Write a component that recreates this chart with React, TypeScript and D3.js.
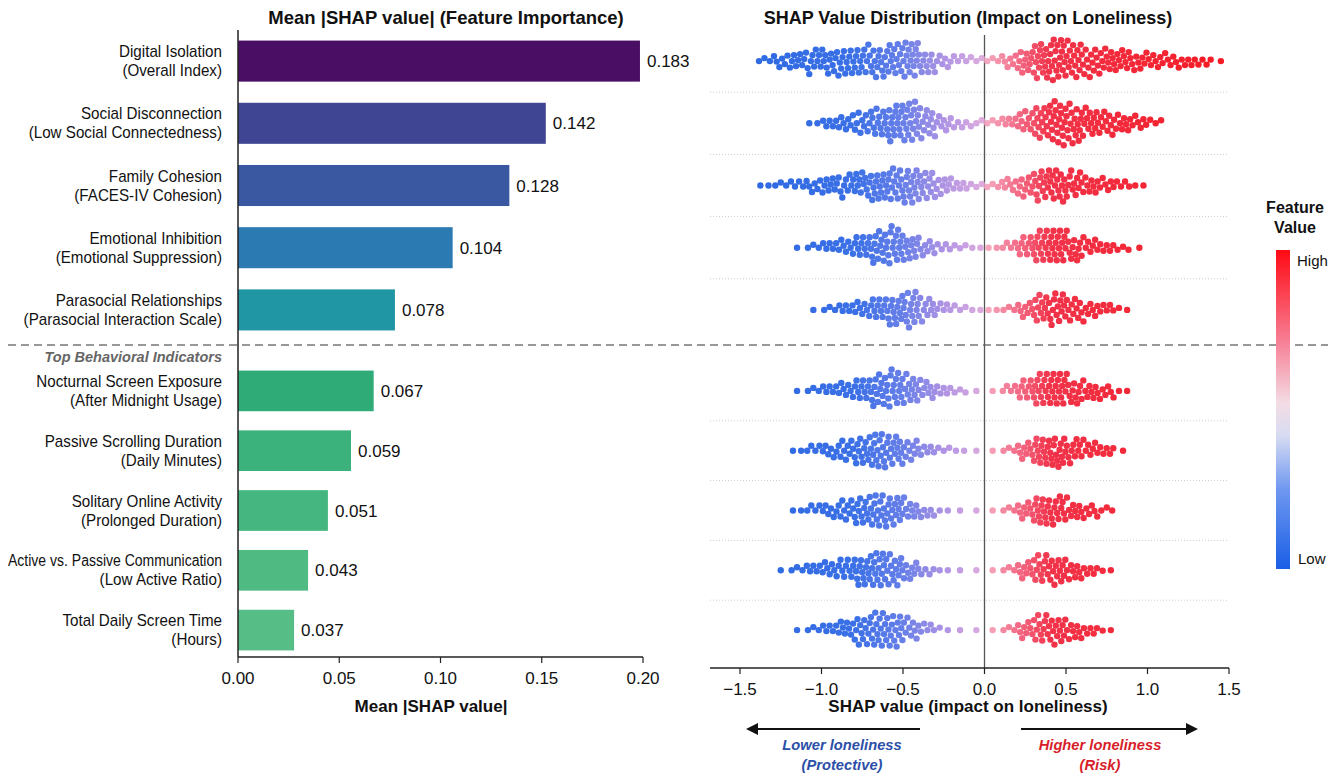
import React from 'react';
import * as d3 from 'd3';

const W = 1340;
const H = 774;
const FONT = "'Liberation Sans', Arial, sans-serif";
const SX = 0.95; // slightly condensed labels

// features, top 5 psychological, bottom 5 behavioral
const nameLines1 = ['Digital Isolation', 'Social Disconnection', 'Family Cohesion', 'Emotional Inhibition', 'Parasocial Relationships',
  'Nocturnal Screen Exposure', 'Passive Scrolling Duration', 'Solitary Online Activity', 'Active vs. Passive Communication', 'Total Daily Screen Time'];
const nameLines2 = ['(Overall Index)', '(Low Social Connectedness)', '(FACES-IV Cohesion)', '(Emotional Suppression)', '(Parasocial Interaction Scale)',
  '(After Midnight Usage)', '(Daily Minutes)', '(Prolonged Duration)', '(Low Active Ratio)', '(Hours)'];
const barLengths = [0.1985, 0.152, 0.134, 0.106, 0.0775, 0.067, 0.0558, 0.0444, 0.0346, 0.0277];
const valueLabels = ['0.183', '0.142', '0.128', '0.104', '0.078', '0.067', '0.059', '0.051', '0.043', '0.037'];
const barColors = ['#4a0f64', '#3f4592', '#3a58a2', '#2c7ab2', '#2096a4', '#2fab78', '#3bb27c', '#45b680', '#50ba83', '#56bd86'];
const barTicks = [0, 0.05, 0.1, 0.15, 0.2];
const shapTicks = [-1.5, -1.0, -0.5, 0, 0.5, 1.0, 1.5];

// dot counts per 0.1-wide SHAP bin, from -1.5 to 1.5 (30 bins)
const binStarts = d3.range(30).map((i) => -1.5 + i * 0.1);
const swarmCounts = [
  [0, 3, 6, 8, 10, 11, 12, 12, 13, 14, 16, 10, 6, 4, 3, 3, 6, 11, 16, 18, 15, 12, 11, 10, 8, 7, 6, 5, 4, 1],
  [0, 0, 0, 0, 2, 5, 7, 9, 12, 16, 17, 12, 7, 4, 3, 3, 5, 9, 14, 18, 16, 12, 10, 8, 6, 3, 0, 0, 0, 0],
  [0, 2, 3, 4, 6, 8, 9, 11, 13, 14, 15, 12, 8, 5, 3, 3, 6, 9, 13, 14, 11, 8, 6, 4, 2, 0, 0, 0, 0, 0],
  [0, 0, 0, 1, 3, 5, 7, 10, 14, 15, 11, 7, 4, 3, 2, 2, 4, 9, 14, 15, 11, 7, 5, 3, 1, 0, 0, 0, 0, 0],
  [0, 0, 0, 0, 1, 3, 5, 7, 10, 13, 15, 9, 5, 3, 2, 2, 3, 7, 12, 13, 10, 7, 5, 2, 0, 0, 0, 0, 0, 0],
  [0, 0, 0, 1, 3, 5, 7, 10, 14, 15, 12, 8, 5, 3, 1, 1, 4, 9, 14, 15, 11, 8, 6, 2, 0, 0, 0, 0, 0, 0],
  [0, 0, 0, 2, 4, 6, 9, 12, 15, 13, 9, 5, 3, 2, 1, 1, 3, 8, 13, 14, 10, 7, 5, 1, 0, 0, 0, 0, 0, 0],
  [0, 0, 0, 2, 4, 6, 9, 12, 14, 13, 8, 5, 2, 1, 1, 1, 3, 8, 13, 12, 8, 6, 3, 0, 0, 0, 0, 0, 0, 0],
  [0, 0, 1, 3, 5, 7, 9, 13, 15, 13, 8, 4, 2, 1, 1, 1, 3, 8, 12, 12, 8, 5, 2, 0, 0, 0, 0, 0, 0, 0],
  [0, 0, 0, 1, 3, 5, 8, 12, 15, 14, 9, 5, 2, 1, 1, 1, 3, 8, 12, 12, 8, 5, 2, 0, 0, 0, 0, 0, 0, 0],
];

const topBand = d3.scaleBand<number>().domain([0, 1, 2, 3, 4]).range([30, 341]).paddingInner(0.34).paddingOuter(0.17);
const botBand = d3.scaleBand<number>().domain([5, 6, 7, 8, 9]).range([361, 660]).paddingInner(0.32).paddingOuter(0.16);
const band = (i: number) => (i < 5 ? topBand : botBand);
const rowY = (i: number) => (band(i)(i) as number) + band(i).bandwidth() / 2;

const xBar = d3.scaleLinear().domain([0, 0.2]).range([238, 643]);
const xShap = d3.scaleLinear().domain([-1.5, 1.5]).range([740, 1229]);

const dotColor = d3.scaleLinear<string>()
  .domain([-1.5, -0.8, -0.5, -0.25, -0.02, 0.02, 0.2, 0.4, 1.5])
  .range(['#1a5ce0', '#2a64e4', '#5a74e6', '#a88ae2', '#d8a4dc', '#f4a0b8', '#f2607e', '#f0223a', '#f4060f'])
  .clamp(true);

const R = 3.2;

function dodge(xs: number[], r: number): number[] {
  const placed: { x: number; y: number }[] = [];
  return xs.map((x) => {
    const near = placed.filter((p) => Math.abs(p.x - x) < 2 * r);
    let y = 0;
    for (let k = 0; k < 400; k++) {
      const c = (k % 2 === 0 ? 1 : -1) * Math.ceil(k / 2) * 0.5;
      if (near.every((p) => (p.x - x) ** 2 + (p.y - c) ** 2 >= (1.9 * r) ** 2)) { y = c; break; }
    }
    placed.push({ x, y });
    return y;
  });
}

const swarms = swarmCounts.map((counts) => {
  const vals: number[] = [];
  counts.forEach((c, b) => {
    for (let j = 0; j < c; j++) vals.push(binStarts[b] + ((j + 0.5) / c) * 0.1);
  });
  const xs = vals.map((v) => xShap(v));
  const ys = dodge(xs, R);
  return vals.map((v, k) => ({ v, x: xs[k], y: ys[k] }));
});

type TProps = React.SVGProps<SVGTextElement> & { x: number; y: number; sx?: number; children: React.ReactNode };
const T = ({ x, y, sx = 1, children, ...rest }: TProps) => (
  <text transform={`translate(${x},${y}) scale(${sx},1)`} {...rest}>{children}</text>
);

export default function App() {
  const sepYs = [0, 1, 2, 3, 5, 6, 7, 8].map((i) => (rowY(i) + rowY(i + 1)) / 2);
  return (
    <svg width={W} height={H} style={{ position: 'absolute', left: 0, top: 0, background: '#fff' }} fontFamily={FONT} fill="#111">
      <defs>
        <linearGradient id="cbar" x1="0" y1="1" x2="0" y2="0">
          <stop offset="0%" stopColor="#1a5ee6" />
          <stop offset="25%" stopColor="#6f98f0" />
          <stop offset="42%" stopColor="#d8dcf2" />
          <stop offset="52%" stopColor="#f3dce4" />
          <stop offset="72%" stopColor="#f77c92" />
          <stop offset="100%" stopColor="#ff0a14" />
        </linearGradient>
      </defs>

      {/* left panel */}
      <T x={446} y={24} textAnchor="middle" fontWeight="bold" fontSize={18.5}>Mean |SHAP value| (Feature Importance)</T>
      {barLengths.map((v, i) => (
        <g key={i}>
          <rect x={xBar(0)} y={band(i)(i)} width={xBar(v) - xBar(0)} height={band(i).bandwidth()} fill={barColors[i]} />
          <T x={xBar(v) + 7} y={rowY(i) + 6} fontSize={17}>{valueLabels[i]}</T>
          {i === 8 ? (
            <text x={222} y={rowY(i) - 4} textAnchor="end" fontSize={16} textLength={214} lengthAdjust="spacingAndGlyphs">{nameLines1[i]}</text>
          ) : (
            <T x={222} y={rowY(i) - 4} sx={SX} textAnchor="end" fontSize={16}>{nameLines1[i]}</T>
          )}
          <T x={222} y={rowY(i) + 15} sx={SX} textAnchor="end" fontSize={16}>{nameLines2[i]}</T>
        </g>
      ))}
      <T x={222} y={362} textAnchor="end" fontSize={14.5} fontStyle="italic" fontWeight="bold" fill="#666">Top Behavioral Indicators</T>
      <line x1={xBar(0)} x2={xBar(0)} y1={30} y2={657} stroke="#222" strokeWidth={1.5} />
      <line x1={xBar(0)} x2={xBar(0.2)} y1={657} y2={657} stroke="#222" strokeWidth={1.5} />
      {barTicks.map((t) => (
        <g key={t} transform={`translate(${xBar(t)},657)`}>
          <line y2={6} stroke="#222" strokeWidth={1.2} />
          <T x={0} y={27} textAnchor="middle" fontSize={17}>{d3.format('.2f')(t)}</T>
        </g>
      ))}
      <T x={431} y={712} textAnchor="middle" fontWeight="bold" fontSize={17}>Mean |SHAP value|</T>

      {/* divider */}
      <line x1={8} x2={1328} y1={345} y2={345} stroke="#777" strokeWidth={1.3} strokeDasharray="8,5" />

      {/* right panel */}
      <T x={968} y={24} textAnchor="middle" fontWeight="bold" fontSize={18}>SHAP Value Distribution (Impact on Loneliness)</T>
      {sepYs.map((y, k) => (
        <line key={k} x1={710} x2={1229} y1={y} y2={y} stroke="#ccc" strokeWidth={1} strokeDasharray="1,2" />
      ))}
      <line x1={xShap(0)} x2={xShap(0)} y1={35} y2={668} stroke="#555" strokeWidth={1.3} />
      {swarms.map((pts, i) => (
        <g key={i}>
          {pts.map((p, k) => (
            <circle key={k} cx={p.x} cy={rowY(i) + p.y} r={R} fill={dotColor(p.v)} fillOpacity={0.92} />
          ))}
        </g>
      ))}
      <line x1={710} x2={1229} y1={668} y2={668} stroke="#222" strokeWidth={1.5} />
      {shapTicks.map((t) => (
        <g key={t} transform={`translate(${xShap(t)},668)`}>
          <line y2={6} stroke="#222" strokeWidth={1.2} />
          <T x={0} y={27} textAnchor="middle" fontSize={17}>{d3.format('.1f')(t)}</T>
        </g>
      ))}
      <T x={968} y={712} textAnchor="middle" fontWeight="bold" fontSize={17}>SHAP value (impact on loneliness)</T>

      {/* direction arrows */}
      <line x1={920} x2={756} y1={729} y2={729} stroke="#111" strokeWidth={2} />
      <path d="M746,729 L758,723 L758,735 Z" fill="#111" />
      <line x1={1021} x2={1188} y1={729} y2={729} stroke="#111" strokeWidth={2} />
      <path d="M1198,729 L1186,723 L1186,735 Z" fill="#111" />
      <T x={842} y={750} sx={SX} textAnchor="middle" fontSize={15.5} fontStyle="italic" fontWeight="bold" fill="#2c4fa8">Lower loneliness</T>
      <T x={842} y={770} sx={SX} textAnchor="middle" fontSize={15.5} fontStyle="italic" fontWeight="bold" fill="#2c4fa8">(Protective)</T>
      <T x={1100} y={750} sx={SX} textAnchor="middle" fontSize={15.5} fontStyle="italic" fontWeight="bold" fill="#d81e2a">Higher loneliness</T>
      <T x={1100} y={770} sx={SX} textAnchor="middle" fontSize={15.5} fontStyle="italic" fontWeight="bold" fill="#d81e2a">(Risk)</T>

      {/* colorbar */}
      <T x={1295} y={213} textAnchor="middle" fontWeight="bold" fontSize={16}>Feature</T>
      <T x={1295} y={233} textAnchor="middle" fontWeight="bold" fontSize={16}>Value</T>
      <rect x={1276} y={250} width={14} height={319} fill="url(#cbar)" />
      <T x={1297} y={266} fontSize={15}>High</T>
      <T x={1298} y={564} fontSize={15}>Low</T>
    </svg>
  );
}
